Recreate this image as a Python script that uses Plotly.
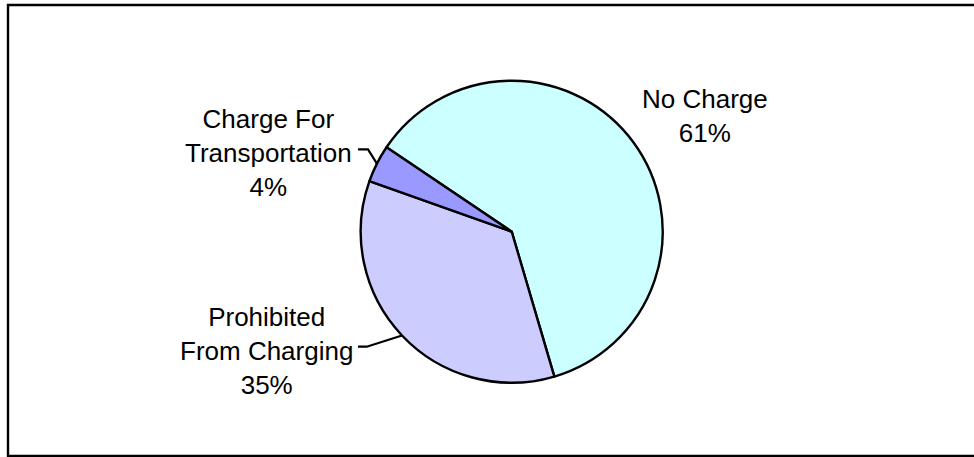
import numpy as np
import plotly.graph_objects as go

# Survey shares, in drawing order (clockwise)
categories = ["No Charge", "Prohibited From Charging", "Charge For Transportation"]
label_text = ["No Charge", "Prohibited<br>From Charging", "Charge For<br>Transportation"]
shares = [61, 35, 4]
colors = ["#CCFFFF", "#CCCCFF", "#9999FF"]

W, H = 974, 457
START_DEG = 304          # where the first slice begins, clockwise from 12 o'clock
CX, CY, R = 511.7, 231.7, 151.0   # pie centre / radius in pixels

def px(x):
    return x / W

def py(y):
    return 1 - y / H

fig = go.Figure(go.Pie(
    labels=categories,
    values=shares,
    sort=False,
    direction="clockwise",
    rotation=START_DEG,
    marker=dict(colors=colors, line=dict(color="black", width=2.4)),
    textinfo="none",
    hoverinfo="label+percent",
    showlegend=False,
    domain=dict(x=[px(CX - R), px(CX + R)], y=[py(CY + R), py(CY - R)]),
))

# Label block centres (pixels) and the leader-line elbow / end, where drawn
label_pos = [(705, 116, None), (266, 351, (366.7, 346.7, 358)), (268, 153, (368, 149.3, 358))]

total = float(sum(shares))
cum = np.cumsum([0] + shares)
annotations = []
shapes = []
for i, (lx, ly, leader) in enumerate(label_pos):
    pct = shares[i] / total * 100
    annotations.append(dict(
        x=px(lx), y=py(ly), xref="paper", yref="paper",
        xanchor="center", yanchor="middle", showarrow=False,
        text=f"{label_text[i]}<br>{pct:.0f}%",
        font=dict(family="Liberation Sans, Arial, sans-serif", size=26, color="black"),
    ))
    if leader is not None:
        mid = np.deg2rad(START_DEG + (cum[i] + cum[i + 1]) / 2 / total * 360)
        sx, sy = CX + R * np.sin(mid), CY - R * np.cos(mid)
        ex, ey, tx = leader
        path = f"M {px(sx)} {py(sy)} L {px(ex)} {py(ey)} L {px(tx)} {py(ey)}"
        shapes.append(dict(type="path", path=path, xref="paper", yref="paper",
                           line=dict(color="black", width=2.2)))

# Chart-area frame
shapes.append(dict(type="rect", xref="paper", yref="paper",
                   x0=px(8), x1=px(990), y0=py(456), y1=py(5),
                   line=dict(color="black", width=2.4), fillcolor="rgba(0,0,0,0)"))

fig.update_layout(
    width=W, height=H,
    margin=dict(l=0, r=0, t=0, b=0),
    paper_bgcolor="white",
    plot_bgcolor="white",
    annotations=annotations,
    shapes=shapes,
)

fig.write_html("out.html")
